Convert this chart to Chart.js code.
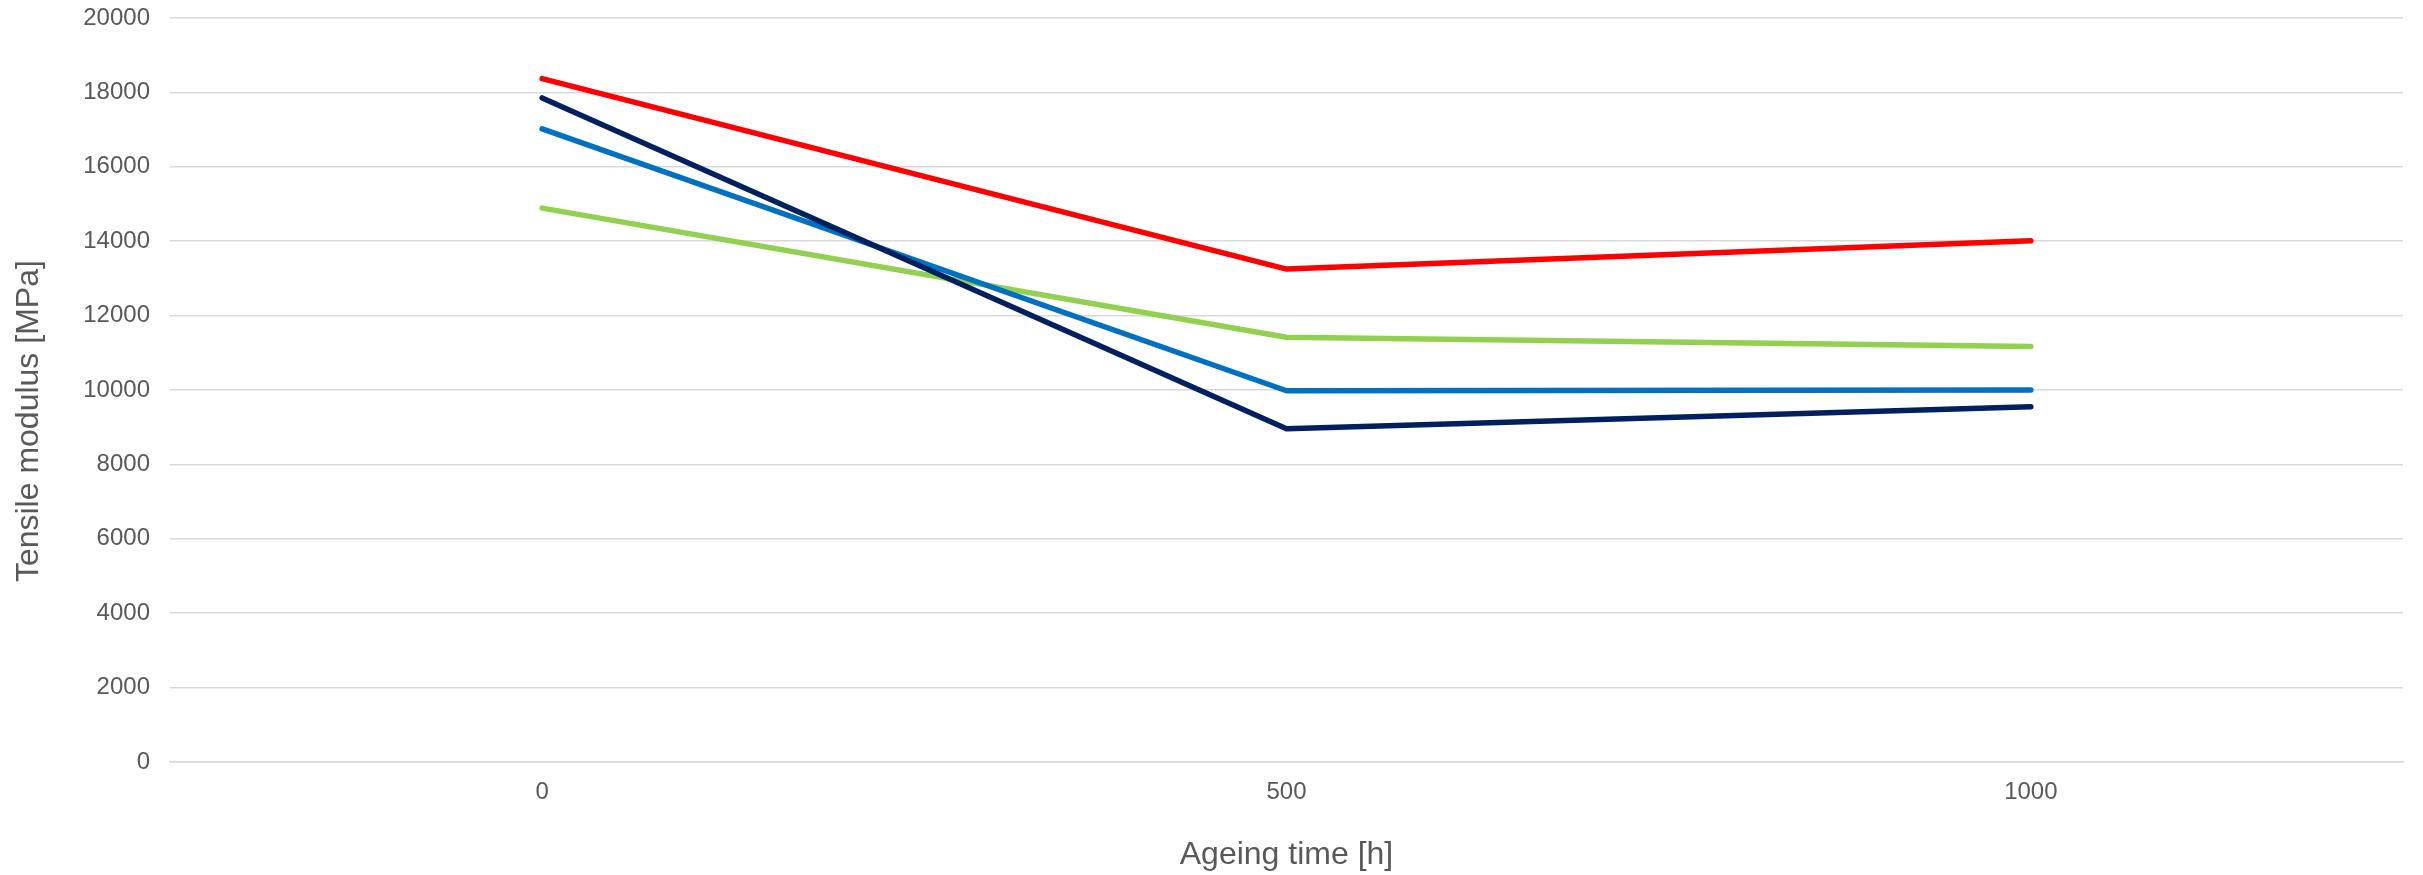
<!DOCTYPE html>
<html lang="en">

<head>
  <title>Tensile modulus vs ageing time</title>
  <script src="https://cdn.jsdelivr.net/npm/chart.js"></script>
  <style>
    body { margin: 0; background: #ffffff; }
    .grafico { width: 2423px; height: 875px; position: relative; }
  </style>
</head>

<body>
  <div class="grafico">
    <canvas id="modulo"></canvas>
  </div>

  <script>
    // categorias do eixo x (horas de envelhecimento)
    const ageingTimes = ['0', '500', '1000'];

    // valores (MPa)
    const serieVermelha = [18370, 13250, 14010];
    const serieAzulEscuro = [17850, 8960, 9550];
    const serieAzul = [17020, 9980, 10000];
    const serieVerde = [14890, 11420, 11170];

    const textoCinza = '#595959';
    const linhaGrade = '#D9D9D9';

    function serie(valores, cor) {
      return {
        data: valores,
        borderColor: cor,
        backgroundColor: cor,
        borderWidth: 5.5,
        borderCapStyle: 'round',
        borderJoinStyle: 'round',
        pointRadius: 0,
        tension: 0,
        fill: false
      };
    }

    const config = {
      type: 'line',
      data: {
        labels: ageingTimes,
        datasets: [
          serie(serieVermelha, '#FF0000'),
          serie(serieAzulEscuro, '#002060'),
          serie(serieAzul, '#0070C0'),
          serie(serieVerde, '#92D050')
        ]
      },
      options: {
        responsive: true,
        maintainAspectRatio: false,
        animation: false,
        layout: { padding: { top: 18, right: 20, bottom: 0, left: 0 } },
        plugins: {
          legend: { display: false },
          tooltip: { enabled: false }
        },
        scales: {
          x: {
            offset: true,
            grid: { display: false, drawTicks: false },
            border: { display: true, color: linhaGrade, width: 1.5 },
            ticks: {
              padding: 16,
              color: textoCinza,
              font: { family: 'Liberation Sans, Arial, sans-serif', size: 24 }
            },
            title: {
              display: true,
              text: 'Ageing time [h]',
              color: textoCinza,
              font: { family: 'Liberation Sans, Arial, sans-serif', size: 32 },
              padding: { top: 0, bottom: 1 }
            },
            afterFit: function (scale) { scale.height = 113; }
          },
          y: {
            min: 0,
            max: 20000,
            grid: { color: linhaGrade, lineWidth: 1.5, drawTicks: false },
            border: { display: false },
            ticks: {
              stepSize: 2000,
              padding: 20,
              color: textoCinza,
              font: { family: 'Liberation Sans, Arial, sans-serif', size: 24 },
              callback: function (valor) { return String(valor); }
            },
            title: {
              display: true,
              // espacos no fim empurram o titulo um pouco para baixo, como no original
              text: 'Tensile modulus [MPa]       ',
              color: textoCinza,
              font: { family: 'Liberation Sans, Arial, sans-serif', size: 32 },
              padding: { top: 10, bottom: 0 }
            },
            afterFit: function (scale) {
              scale.width = 170;
              // sem folga extra acima do 20000, o topo fica so com o padding do layout
              scale.paddingTop = 0;
              scale.paddingBottom = 0;
            }
          }
        }
      }
    };

    let myChart = new Chart(document.getElementById('modulo'), config);
  </script>
</body>

</html>
